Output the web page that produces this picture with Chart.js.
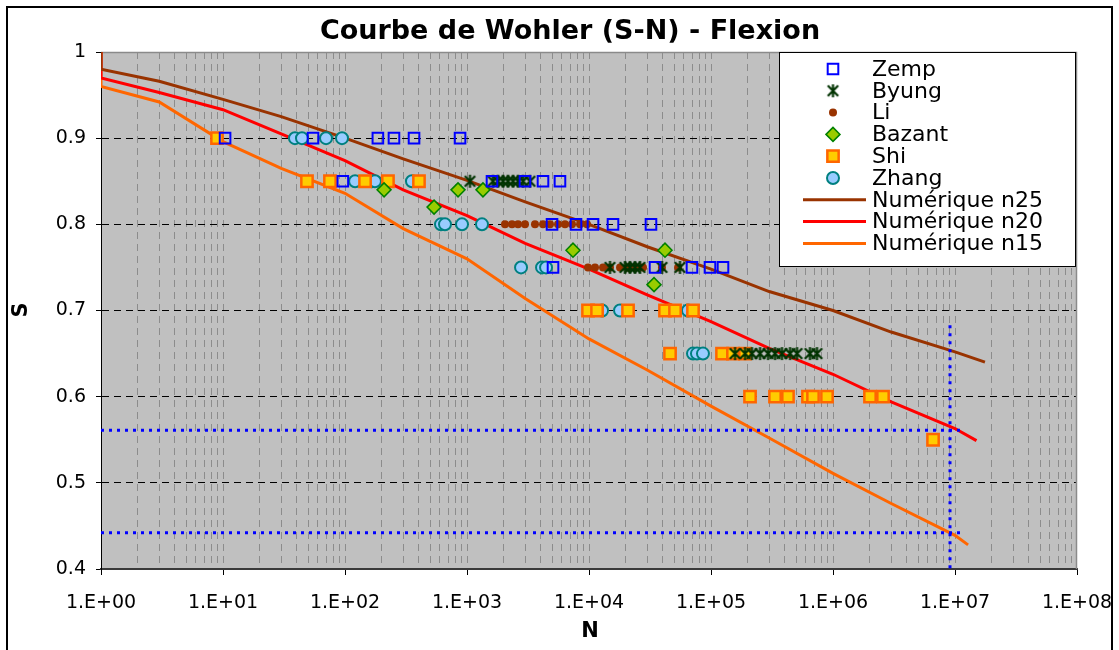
<!DOCTYPE html>
<html>
<head>
<meta charset="utf-8">
<title>Courbe de Wohler (S-N) - Flexion</title>
<script src="https://cdn.jsdelivr.net/npm/chart.js@4/dist/chart.umd.min.js"></script>
<style>
  html, body { margin: 0; padding: 0; background: #fff; }
  canvas { display: block; }
</style>
</head>
<body>
<canvas id="wohler" width="1119" height="650"></canvas>
<script>
// --- essais (N = nombre de cycles, S = niveau de contrainte) ---
const zempN = [10.4, 54.7, 186, 252, 368, 877, 96, 1603, 2988, 4197, 5781, 4977, 7824, 10790, 15730, 32210, 5070, 34760, 69830, 98100, 125400];
const zempS = [0.9, 0.9, 0.9, 0.9, 0.9, 0.9, 0.85, 0.85, 0.85, 0.85, 0.85, 0.8, 0.8, 0.8, 0.8, 0.8, 0.75, 0.75, 0.75, 0.75, 0.75];

const byungN = [1058, 1633, 1795, 1973, 2168, 2383, 2619, 2878, 3282,
  14860, 19720, 21670, 23820, 26180, 39630, 55670,
  157300, 190000, 216800, 252300, 293300, 334800, 381800, 444400, 507300, 647400, 739200];
const byungS = [0.85, 0.85, 0.85, 0.85, 0.85, 0.85, 0.85, 0.85, 0.85,
  0.75, 0.75, 0.75, 0.75, 0.75, 0.75, 0.75,
  0.65, 0.65, 0.65, 0.65, 0.65, 0.65, 0.65, 0.65, 0.65, 0.65, 0.65];

const liN = [2048, 2337, 2619, 2988, 3608, 4197, 4789, 5572, 6358, 7254, 8438, 9631,
  9815, 11200, 13030, 14860, 17960, 20890, 23820, 27720, 39630, 53680];
const liS = [0.8, 0.8, 0.8, 0.8, 0.8, 0.8, 0.8, 0.8, 0.8, 0.8, 0.8, 0.8,
  0.75, 0.75, 0.75, 0.75, 0.75, 0.75, 0.75, 0.75, 0.75, 0.75];

const bazantN = [209, 537, 844, 1352, 7392, 41970, 34120];
const bazantS = [0.84, 0.82, 0.84, 0.84, 0.77, 0.77, 0.73];

const shiN = [8.93, 48.8, 75.3, 146, 225, 404,
  9815, 11640, 20890, 41970, 50700, 71180,
  46150, 123100, 151400, 190000,
  208900, 334800, 427600, 623700, 685600, 893000, 2010000, 2570000,
  6607000];
const shiS = [0.9, 0.85, 0.85, 0.85, 0.85, 0.85,
  0.7, 0.7, 0.7, 0.7, 0.7, 0.7,
  0.65, 0.65, 0.65, 0.65,
  0.6, 0.6, 0.6, 0.6, 0.6, 0.6, 0.6, 0.6,
  0.55];

const zhangN = [38.9, 44.4, 69.9, 94.5, 121, 166, 176, 354, 612, 660, 910, 1327,
  2773, 4121, 4446, 12790, 17960, 64760, 71180, 76740, 85940];
const zhangS = [0.9, 0.9, 0.9, 0.9, 0.85, 0.85, 0.85, 0.85, 0.8, 0.8, 0.8, 0.8,
  0.75, 0.75, 0.75, 0.7, 0.7, 0.7, 0.65, 0.65, 0.65];

// --- courbes numeriques ---
const n25N = [1, 1, 3, 10, 30, 100, 300, 1e3, 3e3, 1e4, 3e4, 1e5, 3e5, 1e6, 3e6, 1e7, 1.76e7];
const n25S = [1, 0.98, 0.966, 0.945, 0.925, 0.9, 0.876, 0.851, 0.826, 0.8, 0.774, 0.748, 0.722, 0.7, 0.675, 0.652, 0.64];

const n20N = [1, 1, 3, 10, 30, 100, 300, 1e3, 3e3, 1e4, 3e4, 1e5, 3e5, 1e6, 3e6, 1e7, 1.5e7];
const n20S = [1, 0.97, 0.953, 0.933, 0.905, 0.874, 0.84, 0.81, 0.778, 0.748, 0.718, 0.687, 0.656, 0.626, 0.594, 0.563, 0.549];

const n15N = [1, 1, 3, 10, 30, 100, 300, 1e3, 3e3, 1e4, 3e4, 1e5, 3e5, 1e6, 3e6, 1e7, 1.28e7];
const n15S = [1, 0.96, 0.942, 0.896, 0.865, 0.836, 0.795, 0.76, 0.714, 0.667, 0.631, 0.589, 0.552, 0.511, 0.476, 0.439, 0.428];

// --- lectures (pointillés bleus) ---
const readN = [1, 1.14e7];
const readS1 = [0.561, 0.561];
const readS2 = [0.442, 0.442];
const vReadN = [9.1e6, 9.1e6];
const vReadS = [0.683, 0.4];

const yTicks = [1, 0.9, 0.8, 0.7, 0.6, 0.5, 0.4];
const xDecades = [0, 1, 2, 3, 4, 5, 6, 7, 8];

const FONT = '"DejaVu Sans", "Liberation Sans", Arial, sans-serif';

const pts = (xs, ys) => xs.map((x, i) => ({ x: x, y: ys[i] }));
const isDecade = v => Math.abs(Math.log10(v) - Math.round(Math.log10(v))) < 1e-9;

// asterisque type Excel (X + barre verticale)
function asterisk(size, color) {
  const c = document.createElement('canvas');
  c.width = size; c.height = size;
  const g = c.getContext('2d');
  const m = size / 2, r = size / 2 - 1, d = r * 0.8;
  g.strokeStyle = color;
  g.lineWidth = 2.2;
  g.beginPath();
  g.moveTo(m - d, m - d); g.lineTo(m + d, m + d);
  g.moveTo(m + d, m - d); g.lineTo(m - d, m + d);
  g.moveTo(m, m - r); g.lineTo(m, m + r);
  g.stroke();
  return c;
}

function marks(label, xs, ys, style) {
  return Object.assign({ label: label, data: pts(xs, ys), showLine: false, order: 0 }, style);
}
function curve(label, xs, ys, color) {
  return {
    label: label, data: pts(xs, ys), showLine: true, borderColor: color, borderWidth: 3,
    pointRadius: 0, pointHoverRadius: 0, tension: 0, order: 1
  };
}
function dotted(xs, ys) {
  return {
    label: '', data: pts(xs, ys), showLine: true, borderColor: '#0000ff', borderWidth: 3,
    borderDash: [3, 5], pointRadius: 0, tension: 0, order: -1
  };
}

const datasets = [
  marks('Zemp', zempN, zempS, { pointStyle: 'rect', pointRadius: 7.5, pointBorderWidth: 2,
    pointBorderColor: '#0000ff', pointBackgroundColor: 'rgba(0,0,0,0)' }),
  marks('Byung', byungN, byungS, { pointStyle: asterisk(15, '#003300'), pointRadius: 7.5,
    pointBorderWidth: 0, pointBorderColor: '#003300', pointBackgroundColor: '#003300' }),
  marks('Li', liN, liS, { pointStyle: 'circle', pointRadius: 4, pointBorderWidth: 0,
    pointBorderColor: '#993300', pointBackgroundColor: '#993300' }),
  marks('Bazant', bazantN, bazantS, { pointStyle: 'rectRot', pointRadius: 7, pointBorderWidth: 1.5,
    pointBorderColor: '#008000', pointBackgroundColor: '#99cc00' }),
  marks('Shi', shiN, shiS, { pointStyle: 'rect', pointRadius: 8, pointBorderWidth: 2.5,
    pointBorderColor: '#ff6600', pointBackgroundColor: '#ffcc00' }),
  marks('Zhang', zhangN, zhangS, { pointStyle: 'circle', pointRadius: 6, pointBorderWidth: 2,
    pointBorderColor: '#008080', pointBackgroundColor: '#99ccff' }),
  curve('Numérique n25', n25N, n25S, '#993300'),
  curve('Numérique n20', n20N, n20S, '#ff0000'),
  curve('Numérique n15', n15N, n15S, '#ff6600'),
  dotted(readN, readS1),
  dotted(readN, readS2),
  dotted(vReadN, vReadS)
];

// fond, cadre, titres et legende
const decor = {
  id: 'decor',
  beforeDraw(chart) {
    const { ctx, chartArea: a } = chart;
    ctx.save();
    ctx.fillStyle = '#fff';
    ctx.fillRect(0, 0, chart.width, chart.height);
    ctx.fillStyle = '#c0c0c0';
    ctx.fillRect(a.left, a.top, a.right - a.left, a.bottom - a.top);
    ctx.strokeStyle = '#000';
    ctx.lineWidth = 2;
    ctx.strokeRect(7, 7, 1105, 700);

    ctx.fillStyle = '#000';
    ctx.textAlign = 'center';
    ctx.textBaseline = 'middle';
    ctx.font = 'bold 27px ' + FONT;
    ctx.fillText('Courbe de Wohler (S-N) - Flexion', 570, 32);
    ctx.font = 'bold 21px ' + FONT;
    ctx.fillText('N', 590, 632);
    ctx.translate(22, 310);
    ctx.rotate(-Math.PI / 2);
    ctx.fillText('S', 0, 0);
    ctx.restore();
  },
  beforeDatasetsDraw(chart) {
    const { ctx, chartArea: a } = chart;
    ctx.save();
    ctx.strokeStyle = '#8a8a8a';
    ctx.lineWidth = 1.5;
    ctx.beginPath();
    ctx.moveTo(a.left, a.top + 0.5);
    ctx.lineTo(a.right - 0.5, a.top + 0.5);
    ctx.lineTo(a.right - 0.5, a.bottom);
    ctx.stroke();
    ctx.restore();
  },
  afterDraw(chart) {
    const ctx = chart.ctx;
    ctx.save();
    ctx.fillStyle = '#fff';
    ctx.fillRect(779, 52, 296, 214);
    ctx.strokeStyle = '#000';
    ctx.lineWidth = 1;
    ctx.strokeRect(779.5, 52.5, 296, 214);
    chart.data.datasets.slice(0, 9).forEach((ds, i) => {
      const y = 69 + i * 21.8;
      if (ds.showLine) {
        ctx.strokeStyle = ds.borderColor;
        ctx.lineWidth = 3;
        ctx.beginPath();
        ctx.moveTo(803, y);
        ctx.lineTo(866, y);
        ctx.stroke();
      } else {
        ctx.fillStyle = ds.pointBackgroundColor;
        ctx.strokeStyle = ds.pointBorderColor;
        ctx.lineWidth = ds.pointBorderWidth;
        Chart.helpers.drawPoint(ctx, {
          pointStyle: ds.pointStyle, radius: ds.pointRadius, rotation: 0,
          borderWidth: ds.pointBorderWidth
        }, 833, y);
      }
      ctx.fillStyle = '#000';
      ctx.font = '22px ' + FONT;
      ctx.textAlign = 'left';
      ctx.textBaseline = 'middle';
      ctx.fillText(ds.label, 872, y + 1);
    });
    ctx.restore();
  }
};

new Chart(document.getElementById('wohler'), {
  type: 'scatter',
  data: { datasets: datasets },
  plugins: [decor],
  options: {
    responsive: false,
    animation: false,
    events: [],
    layout: { padding: { top: 52, left: 0, right: 42, bottom: 0 } },
    plugins: { legend: { display: false }, title: { display: false }, tooltip: { enabled: false } },
    scales: {
      x: {
        type: 'logarithmic',
        min: 1,
        max: 1e8,
        afterFit: s => { s.height = 81; s.paddingLeft = 0; s.paddingRight = 0; },
        afterBuildTicks: s => {
          const t = [];
          xDecades.forEach(e => {
            for (let m = 1; m <= 9; m++) {
              t.push({ value: m * Math.pow(10, e) });
              if (e === xDecades[xDecades.length - 1]) break;
            }
          });
          s.ticks = t;
        },
        ticks: {
          autoSkip: false,
          maxRotation: 0,
          minRotation: 0,
          padding: 17,
          color: '#000',
          font: { family: FONT, size: 19 },
          callback: v => isDecade(v) ? '1.E+0' + Math.round(Math.log10(v)) : ''
        },
        grid: {
          color: c => (c.tick && isDecade(c.tick.value) && (c.tick.value === 1 || c.tick.value === 1e8)) ? 'rgba(0,0,0,0)' : '#8c8c8c',
          lineWidth: 1,
          tickColor: c => (c.tick && isDecade(c.tick.value)) ? '#000' : 'rgba(0,0,0,0)',
          tickLength: 6,
          tickBorderDash: []
        },
        border: { color: '#3a3a3a', width: 2, dash: [7, 5] }
      },
      y: {
        type: 'linear',
        min: 0.4,
        max: 1,
        afterFit: s => { s.width = 101; s.paddingTop = 0; s.paddingBottom = 0; },
        afterBuildTicks: s => { s.ticks = yTicks.map(v => ({ value: v })); },
        ticks: {
          padding: 10,
          color: '#000',
          font: { family: FONT, size: 19 },
          callback: v => String(Math.round(v * 10) / 10)
        },
        grid: {
          color: c => (c.tick && (c.tick.value === 1 || c.tick.value === 0.4)) ? 'rgba(0,0,0,0)' : '#000',
          lineWidth: 1,
          tickColor: '#000',
          tickLength: 5,
          tickBorderDash: []
        },
        border: { color: '#000', width: 1, dash: [7, 5] }
      }
    }
  }
});
</script>
</body>
</html>
